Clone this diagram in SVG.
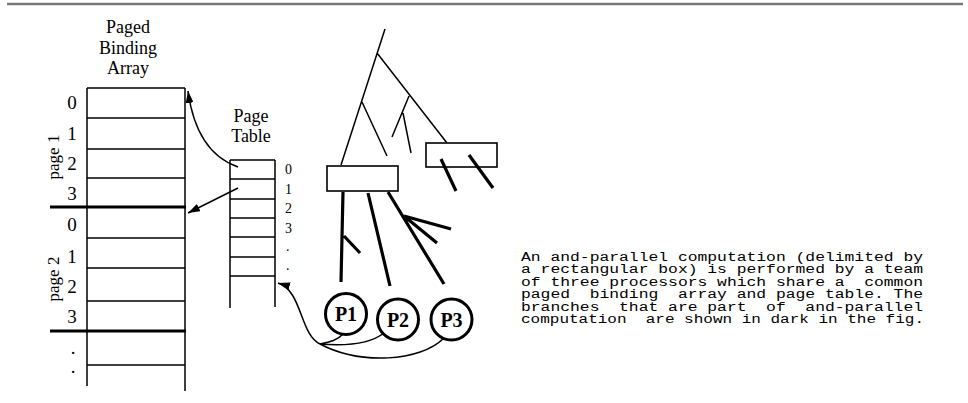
<svg xmlns="http://www.w3.org/2000/svg" width="968" height="403" viewBox="0 0 968 403">
<style>
.thin{stroke:#000;stroke-width:1.5;fill:none}
.thick{stroke:#000;stroke-width:3;fill:none}
.dark{stroke:#000;stroke-width:3.2;fill:none;stroke-linecap:butt}
.box{stroke:#000;stroke-width:1.6;fill:#fff}
.serif{font-family:"Liberation Serif","Times New Roman",serif;fill:#000}
.lbl{font-size:18px;text-anchor:middle}
.idx{font-size:19px;text-anchor:middle}
.pt{font-size:14px}
.proc{font-family:"Liberation Serif","Times New Roman",serif;font-weight:bold;font-size:20px;text-anchor:middle}
.mono{font-family:"Liberation Mono","Courier New",monospace;font-size:12px;white-space:pre;fill:#000}
</style>
<defs>
<marker id="ah" viewBox="0 0 12 8" refX="12" refY="4" markerWidth="12" markerHeight="8" markerUnits="userSpaceOnUse" orient="auto">
<path d="M0,0 L12,4 L0,8 Z" fill="#000"/>
</marker>
</defs>
<line x1="7" y1="4" x2="963" y2="4" stroke="#777" stroke-width="2.5"/>

<g id="binding-array">
<text class="serif lbl" x="128" y="33">Paged</text>
<text class="serif lbl" x="128" y="54">Binding</text>
<text class="serif lbl" x="128" y="74">Array</text>
<path class="thin" d="M87,88 V386 M185,88 V391 M87,88 H185 M87,118 H185 M87,149 H185 M87,178 H185 M87,238 H185 M87,268 H185 M87,301 H185 M87,365 H185"/>
<path class="thick" d="M50,207 H186 M50,331 H186"/>
<text class="serif idx" x="72" y="109">0</text>
<text class="serif idx" x="72" y="140">1</text>
<text class="serif idx" x="72" y="170">2</text>
<text class="serif idx" x="72" y="200">3</text>
<text class="serif idx" x="72" y="231">0</text>
<text class="serif idx" x="72" y="263">1</text>
<text class="serif idx" x="72" y="293">2</text>
<text class="serif idx" x="72" y="323">3</text>
<text class="serif idx" x="73" y="354">.</text>
<text class="serif idx" x="73" y="373">.</text>
<text class="serif" font-size="17" text-anchor="middle" transform="translate(59,157) rotate(-90)">page 1</text>
<text class="serif" font-size="17" text-anchor="middle" transform="translate(59,279) rotate(-90)">page 2</text>
</g>

<g id="page-table">
<text class="serif lbl" x="251" y="122">Page</text>
<text class="serif lbl" x="251" y="142">Table</text>
<path class="thin" d="M230,160 V308 M275,160 V307 M230,160 H275 M230,179 H275 M230,199 H275 M230,218 H275 M230,237 H275 M230,257 H275 M230,276 H275"/>
<text class="serif pt" x="285" y="174">0</text>
<text class="serif pt" x="285" y="194">1</text>
<text class="serif pt" x="285" y="213">2</text>
<text class="serif pt" x="285" y="233">3</text>
<text class="serif pt" x="286" y="251">.</text>
<text class="serif pt" x="286" y="270">.</text>
</g>

<g id="tree">
<path class="thin" d="M385,29 L341,165 M377,53 L447,143 M362,102 L387,156 M409,96 L392,137 M403,113 L411,153"/>
</g>

<g id="box-left">
<rect class="box" x="327" y="166" width="71" height="25"/>
</g>
<g id="box-right">
<rect class="box" x="426" y="143" width="71" height="24"/>
</g>

<g id="dark-branches">
<path class="dark" d="M441,159 L456,191 M469,155 L493,188 M343,192 L341,282 M344,236 L360,253 M368,193 L390,286 M388,192 L444,284 M404,216 L451,229 M404,216 L437,243"/>
</g>

<g id="P1">
<circle cx="346" cy="314" r="20.5" fill="#fff" stroke="#000" stroke-width="3"/>
<text class="proc" x="346" y="321">P1</text>
</g>
<g id="P2">
<circle cx="398" cy="319.5" r="20.5" fill="#fff" stroke="#000" stroke-width="3"/>
<text class="proc" x="398" y="326.5">P2</text>
</g>
<g id="P3">
<circle cx="451.5" cy="319.5" r="20.5" fill="#fff" stroke="#000" stroke-width="3"/>
<text class="proc" x="451.5" y="326.5">P3</text>
</g>

<g id="connectors">
<path class="thin" d="M238,167 C212,158 194,135 188,91" marker-end="url(#ah)"/>
<path class="thin" d="M238,188 L188,213" marker-end="url(#ah)"/>
<path class="thin" d="M320,344 C300,335 302,290 278,283" marker-end="url(#ah)"/>
<path class="thin" d="M320,344 C330,342 338,340 343,334"/>
<path class="thin" d="M320,344 C345,346 370,344 384,333"/>
<path class="thin" d="M320,344 C360,365 420,362 444,338"/>
</g>

<g id="caption">
<text class="mono" x="521" y="261" textLength="402" lengthAdjust="spacingAndGlyphs">An and-parallel computation (delimited by</text>
<text class="mono" x="521" y="273.4" textLength="402" lengthAdjust="spacingAndGlyphs">a rectangular box) is performed by a team</text>
<text class="mono" x="521" y="285.8" textLength="402" lengthAdjust="spacingAndGlyphs">of three processors which share a  common</text>
<text class="mono" x="521" y="298.2" textLength="402" lengthAdjust="spacingAndGlyphs">paged  binding  array and page table. The</text>
<text class="mono" x="521" y="310.6" textLength="402" lengthAdjust="spacingAndGlyphs">branches  that are part  of  and-parallel</text>
<text class="mono" x="521" y="323" textLength="403" lengthAdjust="spacingAndGlyphs">computation  are shown in dark in the fig.</text>
</g>
</svg>
